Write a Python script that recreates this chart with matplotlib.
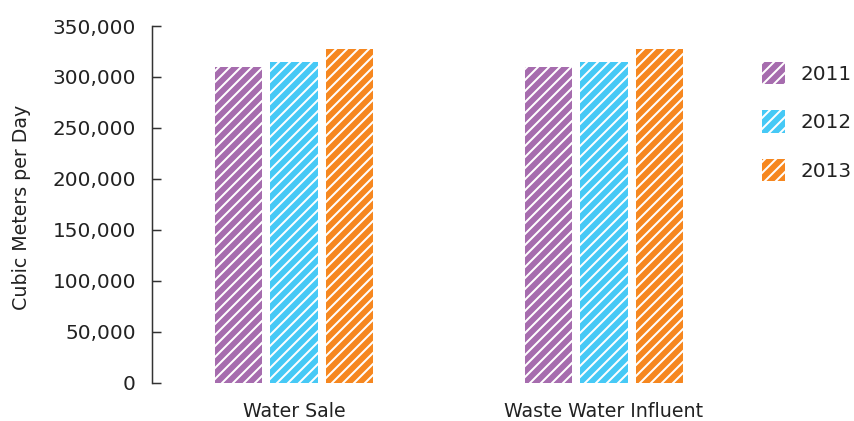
import matplotlib
matplotlib.use("Agg")
import matplotlib.pyplot as plt
import numpy as np
from matplotlib.ticker import FuncFormatter

categories = ["Water Sale", "Waste Water Influent"]
years = ["2011", "2012", "2013"]
values_2011 = [310000, 310000]
values_2012 = [315000, 315000]
values_2013 = [327500, 327500]
series = [values_2011, values_2012, values_2013]
colors = ["#A66CAE", "#46C9F6", "#F6871F"]
yticks = [0, 50000, 100000, 150000, 200000, 250000, 300000, 350000]

DPI = 132
W, H = 854, 421
px = 72.0 / DPI  # points per pixel

plt.rcParams['font.family'] = ['DejaVu Sans']
plt.rcParams['hatch.linewidth'] = 2.0 * px

fig = plt.figure(figsize=(W / DPI, H / DPI), dpi=DPI)
ax = fig.add_axes([152 / W, 1 - 382.7 / H, (746 - 152) / W, (382.7 - 26) / H])

x = np.arange(len(categories))
width = 0.152
step = 0.179
for i, (yr, vals, c) in enumerate(zip(years, series, colors)):
    ax.bar(x + (i - 1) * step, vals, width, color=c, edgecolor="white",
           linewidth=0, hatch="////", label=yr)

ax.set_xlim(-0.458, 1.458)
ax.set_ylim(0, 350000)
ax.set_yticks(yticks)
ax.yaxis.set_major_formatter(FuncFormatter(lambda v, p: f"{int(v):,}"))
ax.set_xticks(x)
ax.set_xticklabels(categories)

for s in ["top", "right", "bottom"]:
    ax.spines[s].set_visible(False)
ax.spines["left"].set_color("#333333")
ax.spines["left"].set_linewidth(1.5 * px)

ax.tick_params(axis="y", direction="in", length=9 * px, width=1.5 * px,
               color="#333333", pad=16 * px, labelsize=20 * px, labelcolor="#222222")
ax.tick_params(axis="x", length=0, pad=19 * px, labelsize=19 * px, labelcolor="#222222")

fig.text(22 / W, 1 - 207 / H, "Cubic Meters per Day", rotation=90,
         ha="center", va="center", fontsize=19 * px, color="#222222")

leg = fig.legend(loc="upper left", bbox_to_anchor=(762 / W, 1 - 62 / H),
                 frameon=False, fontsize=20 * px, handlelength=23 / 20,
                 handleheight=1.35, labelspacing=1.3, handletextpad=0.75,
                 borderpad=0, borderaxespad=0)
for t in leg.get_texts():
    t.set_color("#222222")

fig.savefig("out.png", dpi=DPI)
